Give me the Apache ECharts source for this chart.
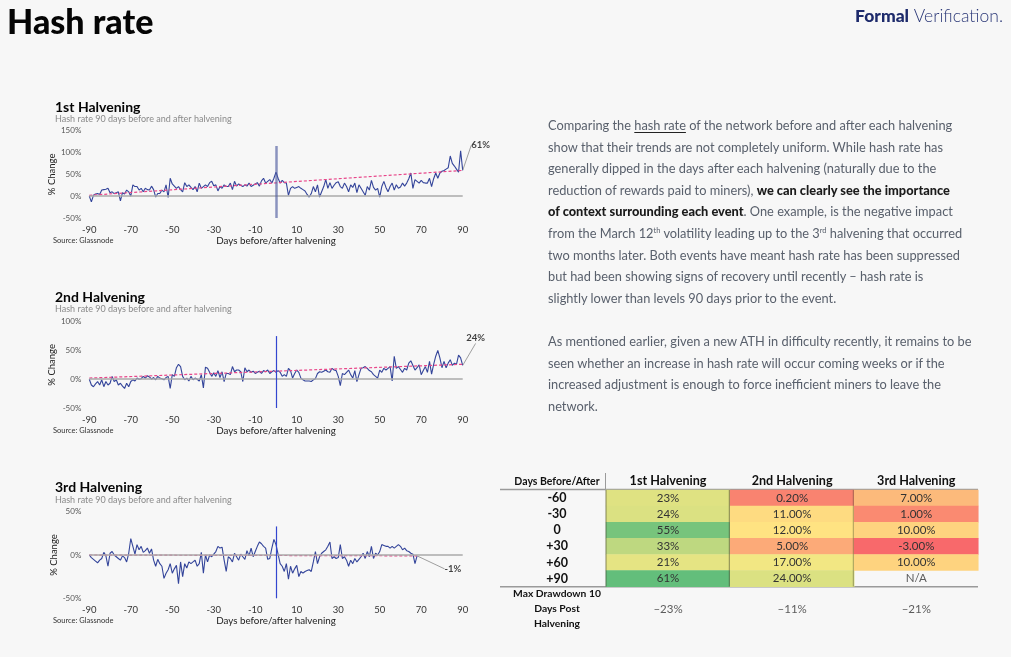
<!DOCTYPE html>
<html><head><meta charset="utf-8">
<script src="https://cdn.jsdelivr.net/npm/echarts@6/dist/echarts.min.js"></script>
<style>
html,body{margin:0;padding:0;background:#f7f7f7;}
#chart{position:absolute;left:0;top:0;width:1011px;height:657px;}
.txt{position:absolute;left:548px;font-family:Lato,sans-serif;font-size:12.8px;color:#59606c;line-height:21.6px;white-space:nowrap;}
.txt b{color:#1b1b1b;font-weight:900;}
.txt u{text-decoration:underline;text-decoration-color:#222;text-underline-offset:2px;}
.txt sup{font-size:7.5px;line-height:0;vertical-align:5px;}
</style></head><body>
<div id="chart"></div>
<div class="txt" style="top:115px">
Comparing the <u>hash rate</u> of the network before and after each halvening<br>
show that their trends are not completely uniform. While hash rate has<br>
generally dipped in the days after each halvening (naturally due to the<br>
reduction of rewards paid to miners), <b>we can clearly see the importance</b><br>
<b>of context surrounding each event</b>. One example, is the negative impact<br>
from the March 12<sup>th</sup> volatility leading up to the 3<sup>rd</sup> halvening that occurred<br>
two months later. Both events have meant hash rate has been suppressed<br>
but had been showing signs of recovery until recently – hash rate is<br>
slightly lower than levels 90 days prior to the event.
</div>
<div class="txt" style="top:331px">
As mentioned earlier, given a new ATH in difficulty recently, it remains to be<br>
seen whether an increase in hash rate will occur coming weeks or if the<br>
increased adjustment is enough to force inefficient miners to leave the<br>
network.
</div>
<script>
// ---- data (days -90 .. +90) ----
const hr1 = [
 0,-13,2,5,6,4,14,15,16,18,
 8,10,6,8,10,-11,8,5,14,10,
 0,26,22,22,14,18,10,18,15,14,
 23,15,-2,6,6,14,10,26,-3,41,
 28,23,18,22,15,10,31,22,26,20,
 15,22,10,30,18,22,26,22,31,34,
 24,26,12,22,18,26,22,22,30,15,
 34,23,28,25,22,26,23,30,22,25,
 28,31,23,35,41,30,34,38,30,41,
 55,
 41,30,36,31,30,2,18,22,18,20,
 22,18,15,12,4,-2,6,22,10,26,
 -2,10,22,38,18,31,18,25,31,33,
 22,18,30,22,10,26,20,30,8,26,
 18,10,2,22,14,36,20,14,18,-2,
 22,34,20,10,22,30,14,26,18,21,
 30,23,30,40,53,18,38,34,30,36,
 31,30,30,41,22,40,53,41,53,57,
 59,62,65,92,75,69,62,55,104,59
];
const hr2 = [
 0,-10,-13,-8,-4,-10,-1,-13,-4,-10,
 -7,5,-4,-1,-10,-7,-12,-16,-7,-13,
 -4,-1,-3,2,0,1,5,2,6,4,
 0,3,-1,5,2,1,-1,3,5,-16,
 8,5,20,26,22,5,-1,2,-3,5,
 -1,2,0,-3,8,-15,21,19,12,5,
 11,5,15,3,13,-4,10,10,8,22,
 13,16,16,13,-4,20,13,16,12,14,
 10,12,14,10,15,13,16,10,13,15,
 12,
 15,12,5,8,5,19,15,2,10,16,
 12,2,-1,-3,-3,-3,-4,-1,1,10,
 13,12,14,16,13,12,19,16,15,5,
 -11,10,8,12,16,8,2,15,-4,8,
 19,20,22,19,15,13,8,5,2,16,
 12,19,16,19,22,-3,40,19,22,17,
 12,19,16,28,32,24,16,20,25,8,
 15,22,12,31,9,26,40,50,37,20,
 31,20,28,34,24,28,26,42,37,24
];
const hr3 = [
 0,-3,-5,-7,-9,-6,-4,3,-1,-13,
 2,4,0,-2,-4,-6,-1,-3,-8,2,
 19,10,1,12,6,10,3,5,8,2,
 7,-6,-13,-5,-10,-13,-27,-21,-17,-10,
 -21,-16,-12,-33,-8,-25,-10,-15,-8,-10,
 -8,-6,-13,-10,3,-21,0,-8,0,-2,
 1,4,10,8,9,-6,-19,-2,-4,-8,
 2,-2,-6,1,-2,-5,5,-1,8,-2,
 4,10,15,13,10,8,-5,-4,8,18,
 12,
 1,-10,-13,-19,-10,-28,-13,-21,-16,-12,
 -25,-19,-21,-19,-18,-17,-19,-8,4,-10,
 -2,2,4,6,10,15,-4,-2,-4,-3,
 12,-4,-2,-6,-13,-6,-10,-4,-8,-5,
 -2,2,-4,4,-2,10,-4,2,0,4,
 12,11,10,10,8,10,8,10,12,10,
 6,8,5,4,2,1,-10,-1
];
const firstDay = -90;
const trendEnds1 = [2, 59];   // linear trend at day -90 and day +90
const trendEnds2 = [2, 26];
const trendEnds3 = [0, -1];   // day -90 and last day
const endLabels = ['61%', '24%', '-1%'];
const yMax = [150, 100, 50];
const xTickLabels = [-90, -70, -50, -30, -10, 10, 30, 50, 70, 90];

// table
const tableCols = ['1st Halvening', '2nd Halvening', '3rd Halvening'];
const tableRows = ['-60', '-30', '0', '+30', '+60', '+90'];
const t1 = [23, 24, 55, 33, 21, 61];
const t2 = [0.2, 11, 12, 5, 17, 24];
const t3 = [7, 1, 10, -3, 10, null];
const drawdown = [-23, -11, -21];

const FONT = 'Lato, "Noto Sans", sans-serif';
const chart = echarts.init(document.getElementById('chart'), null, {renderer: 'canvas'});

const gridTops = [130.7, 321.7, 511.7];
const gridHeights = [87.3, 86.3, 86.6];
const grids = [], xAxes = [], yAxes = [], series = [];
const vTop = [115, 75, 33];
const vColor = ['rgba(80,94,160,0.65)', '#3346d0', '#3346d0'];
const vWidth = [2.5, 1.2, 1.2];
const endLayout = [{dx: 5, dy: -25}, {dx: 0, dy: -27}, {dx: 24, dy: 13}];

[hr1, hr2, hr3].forEach((vals, i) => {
  const days = vals.map((_, k) => firstDay + k);
  const lastDay = days[days.length - 1];
  grids.push({left: 89.3, top: gridTops[i], width: 373.4, height: gridHeights[i]});
  xAxes.push({
    type: 'value', gridIndex: i, min: -90, max: 90, interval: 10,
    axisLine: {show: false}, axisTick: {show: false}, splitLine: {show: false},
    axisLabel: {formatter: v => xTickLabels.indexOf(v) >= 0 ? String(v) : '', color: '#333', fontSize: 9.5, margin: 7, fontFamily: FONT},
    name: 'Days before/after halvening', nameLocation: 'middle', nameGap: 18,
    nameTextStyle: {color: '#222', fontSize: 9.8, fontFamily: FONT}
  });
  yAxes.push({
    type: 'value', gridIndex: i, min: -50, max: yMax[i], interval: 50,
    axisLine: {show: false}, axisTick: {show: false}, splitLine: {show: false},
    axisLabel: {formatter: '{value}%', color: '#555', fontSize: 8, margin: 8, fontFamily: FONT},
    name: '% Change', nameLocation: 'middle', nameGap: 27, nameRotate: 90,
    nameTextStyle: {color: '#222', fontSize: 9.5, fontFamily: FONT}
  });
  const trendEnds = [trendEnds1, trendEnds2, trendEnds3][i];
  series.push({
    type: 'line', xAxisIndex: i, yAxisIndex: i, silent: true, z: 1,
    data: [], symbol: 'none',
    markLine: {silent: true, symbol: 'none', label: {show: false}, animation: false,
      data: [{yAxis: 0, lineStyle: {color: '#aaaaaa', width: 1.5, type: 'solid'}}]}
  });
  series.push({
    type: 'line', xAxisIndex: i, yAxisIndex: i, silent: true, z: 3,
    data: days.map((d, k) => [d, vals[k]]), symbol: 'none',
    lineStyle: {color: '#33449a', width: 1.1},
    markLine: {silent: true, symbol: 'none', label: {show: false}, animation: false,
      data: [[{coord: [0, -50], lineStyle: {color: vColor[i], width: vWidth[i], type: 'solid'}}, {coord: [0, vTop[i]]}]]}
  });
  series.push({
    type: 'line', xAxisIndex: i, yAxisIndex: i, silent: true, z: 4,
    data: [[-90, trendEnds[0]], [lastDay, trendEnds[1]]], symbol: 'none',
    lineStyle: {color: '#e8478a', width: 1.2, type: [3, 2]}
  });
  series.push({
    type: 'scatter', xAxisIndex: i, yAxisIndex: i, silent: true, z: 5,
    data: [[lastDay, vals[vals.length - 1]]], symbolSize: 1, itemStyle: {color: 'rgba(0,0,0,0)'},
    label: {show: true, position: 'right', distance: 3, formatter: endLabels[i], color: '#111', fontWeight: 'bold', fontSize: 9.5, fontFamily: FONT},
    labelLayout: endLayout[i],
    labelLine: {show: true, lineStyle: {color: '#888', width: 0.8}}
  });
});

// ---- table as heatmap ----
const allVals = t1.concat(t2, t3).filter(v => v != null);
const lo = Math.min.apply(null, allVals), hi = Math.max.apply(null, allVals), mid = 13;
function scaleColor(v) {
  const red = [248, 105, 107], yel = [255, 235, 132], grn = [99, 190, 123];
  let a, b, t;
  if (v <= mid) { a = red; b = yel; t = (v - lo) / (mid - lo); }
  else { a = yel; b = grn; t = (v - mid) / (hi - mid); }
  return 'rgb(' + a.map((c, k) => Math.round(c + (b[k] - c) * t)).join(',') + ')';
}
const cells = [];
[t1, t2, t3].forEach((col, c) => col.forEach((v, r) => {
  if (v != null) cells.push({value: [c, r, v], itemStyle: {color: scaleColor(v)}});
}));
grids.push({left: 606, top: 490, width: 372.3, height: 96.7});
xAxes.push({type: 'category', gridIndex: 3, data: tableCols, position: 'top',
  axisLine: {show: false}, axisTick: {show: false},
  axisLabel: {interval: 0, color: '#111', fontWeight: 'bold', fontSize: 12.6, margin: 3, fontFamily: FONT}});
yAxes.push({type: 'category', gridIndex: 3, data: tableRows, inverse: true,
  axisLine: {show: false}, axisTick: {show: false},
  axisLabel: {interval: 0, color: '#111', fontWeight: 'bold', fontSize: 12.5, margin: 49, align: 'center', fontFamily: FONT}});
series.push({
  type: 'heatmap', xAxisIndex: 3, yAxisIndex: 3, data: cells, silent: true,
  label: {show: true, color: '#333', fontSize: 11.5, fontFamily: FONT,
    formatter: p => p.value[0] === 0 ? p.value[2] + '%' : p.value[2].toFixed(2) + '%'}
});
series.push({
  type: 'scatter', xAxisIndex: 3, yAxisIndex: 3, silent: true, symbolSize: 0,
  data: [[2, 5]],
  label: {show: true, position: 'inside', formatter: 'N/A', color: '#333', fontSize: 11.5, fontFamily: FONT}
});
grids.push({left: 606, top: 587, width: 372.3, height: 44});
xAxes.push({type: 'category', gridIndex: 4, data: tableCols, show: false});
yAxes.push({type: 'category', gridIndex: 4, data: ['Max Drawdown 10\nDays Post\nHalvening'],
  axisLine: {show: false}, axisTick: {show: false},
  axisLabel: {interval: 0, color: '#111', fontWeight: 'bold', fontSize: 10.3, lineHeight: 15, margin: 49, align: 'center', fontFamily: FONT}});
series.push({
  type: 'scatter', xAxisIndex: 4, yAxisIndex: 4, silent: true, symbolSize: 0,
  data: drawdown.map((v, c) => ({value: [c, 0], dd: v})),
  label: {show: true, position: 'inside', color: '#333', fontSize: 11.5, fontFamily: FONT,
    formatter: p => '\u2013' + Math.abs(p.data.dd) + '%'}
});

// ---- static texts ----
const txt = (text, x, y, font, fill, align) => ({type: 'text', silent: true,
  style: {text, x, y, font, fill, textAlign: align || 'left', textVerticalAlign: 'middle'}});
const titles = ['1st Halvening', '2nd Halvening', '3rd Halvening'];
const titleY = [107.3, 297.5, 487.5];
const subY = [119.5, 309.5, 500];
const srcY = [240.7, 430.7, 620.7];
const vline = (x, y1, y2, c, w) => ({type: 'line', silent: true, z: 10, shape: {x1: x, y1, x2: x, y2}, style: {stroke: c, lineWidth: w}});
const graphics = [
  txt('Hash rate', 7, 23, '900 34px ' + FONT, '#050505'),
  {type: 'text', silent: true, style: {text: '{a|Formal}{b| Verification.}', x: 1003, y: 16, textAlign: 'right', textVerticalAlign: 'middle',
    rich: {a: {fontFamily: FONT, fontWeight: 900, fontSize: 17.5, fill: '#1d2a6b'}, b: {fontFamily: FONT, fontWeight: 300, fontSize: 17.5, fill: '#2a3777'}}}},
  txt('Days Before/After', 557, 482, 'bold 10.5px ' + FONT, '#111', 'center'),
  {type: 'line', silent: true, shape: {x1: 500, y1: 489.5, x2: 978, y2: 489.5}, style: {stroke: '#9a9a9a', lineWidth: 1.5}},
  {type: 'line', silent: true, shape: {x1: 500, y1: 586.7, x2: 978, y2: 586.7}, style: {stroke: '#9a9a9a', lineWidth: 1.5}},
  vline(605.5, 473, 489, '#9a9a9a', 1),
  vline(606, 490, 586.5, 'rgba(60,60,40,0.7)', 0.8),
  vline(729.3, 490, 586.5, 'rgba(60,60,40,0.7)', 0.8),
  vline(853.3, 490, 586.5, 'rgba(60,60,40,0.55)', 0.8)
];
titles.forEach((t, i) => {
  graphics.push(txt(t, 55, titleY[i], 'bold 14px ' + FONT, '#050505'));
  graphics.push(txt('Hash rate 90 days before and after halvening', 55, subY[i], '9px ' + FONT, '#8a8a8a'));
  graphics.push(txt('Source: Glassnode', 53, srcY[i], '7.5px ' + FONT, '#333'));
});

chart.setOption({
  animation: false,
  backgroundColor: '#f7f7f7',
  grid: grids, xAxis: xAxes, yAxis: yAxes, series: series,
  graphic: graphics
});
</script>
</body></html>
